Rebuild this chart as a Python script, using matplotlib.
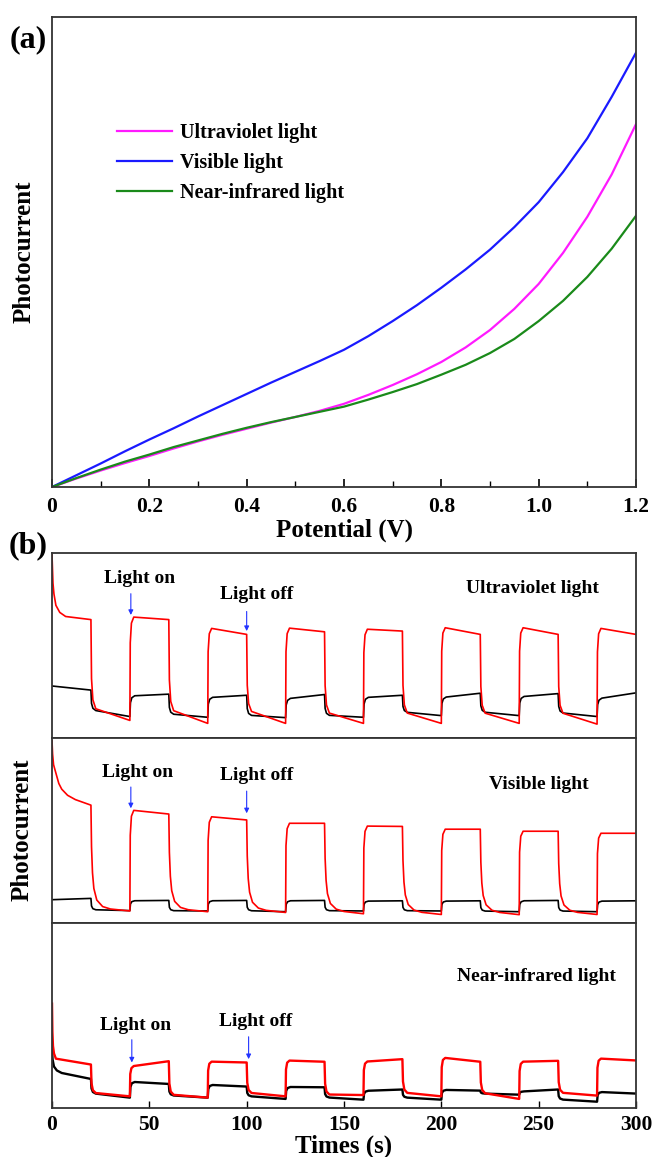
import numpy as np
import matplotlib.pyplot as plt

plt.rcParams['font.family'] = ['Liberation Serif', 'DejaVu Serif']
plt.rcParams['font.weight'] = 'bold'

# ---- (a) photocurrent vs potential (arbitrary units) ----
potential = [0.0, 0.05, 0.1, 0.15, 0.2, 0.25, 0.3, 0.35, 0.4, 0.45, 0.5, 0.55, 0.6,
             0.65, 0.7, 0.75, 0.8, 0.85, 0.9, 0.95, 1.0, 1.05, 1.1, 1.15, 1.2]
uv_iv = [0, 0.018, 0.035, 0.051, 0.066, 0.082, 0.097, 0.111, 0.124, 0.137, 0.149, 0.162, 0.177,
         0.196, 0.217, 0.24, 0.266, 0.297, 0.334, 0.379, 0.432, 0.498, 0.575, 0.665, 0.772]
vis_iv = [0, 0.025, 0.05, 0.076, 0.101, 0.125, 0.15, 0.174, 0.198, 0.222, 0.245, 0.268, 0.292,
          0.321, 0.353, 0.387, 0.424, 0.463, 0.505, 0.553, 0.606, 0.67, 0.742, 0.83, 0.924]
nir_iv = [0, 0.019, 0.037, 0.054, 0.069, 0.085, 0.099, 0.113, 0.126, 0.138, 0.149, 0.16, 0.171,
          0.186, 0.202, 0.219, 0.239, 0.26, 0.285, 0.315, 0.353, 0.396, 0.447, 0.507, 0.577]

# ---- (b) on/off cycles: light switched every 20 s, starting with light on ----
switch_t = [0, 20, 40, 60, 80, 100, 120, 140, 160, 180, 200, 220, 240, 260, 280, 300]

# level just after each switch / just before the next switch
uv_red_start = [0.65, 0.15, 0.655, 0.14, 0.596, 0.138, 0.596, 0.127, 0.589, 0.127, 0.60, 0.127, 0.60, 0.127, 0.596]
uv_red_end = [0.64, 0.095, 0.64, 0.079, 0.56, 0.079, 0.574, 0.079, 0.578, 0.079, 0.56, 0.079, 0.56, 0.075, 0.56]
uv_blk_start = [0.281, 0.149, 0.231, 0.127, 0.222, 0.12, 0.215, 0.12, 0.222, 0.138, 0.222, 0.138, 0.226, 0.134, 0.215]
uv_blk_end = [0.259, 0.116, 0.237, 0.112, 0.231, 0.11, 0.235, 0.112, 0.231, 0.121, 0.242, 0.121, 0.24, 0.116, 0.244]

vis_red_start = [0.70, 0.075, 0.611, 0.072, 0.576, 0.07, 0.539, 0.065, 0.524, 0.06, 0.507, 0.06, 0.496, 0.06, 0.485]
vis_red_end = [0.637, 0.065, 0.589, 0.061, 0.557, 0.057, 0.539, 0.05, 0.522, 0.046, 0.507, 0.045, 0.496, 0.046, 0.485]
vis_blk_start = [0.126, 0.07, 0.122, 0.065, 0.122, 0.065, 0.122, 0.065, 0.12, 0.065, 0.12, 0.063, 0.122, 0.063, 0.12]
vis_blk_end = [0.133, 0.067, 0.122, 0.065, 0.122, 0.061, 0.122, 0.065, 0.12, 0.065, 0.12, 0.061, 0.122, 0.061, 0.12]

nir_red_start = [0.26, 0.078, 0.224, 0.067, 0.251, 0.078, 0.257, 0.067, 0.25, 0.078, 0.273, 0.078, 0.25, 0.078, 0.268]
nir_red_end = [0.235, 0.063, 0.253, 0.056, 0.246, 0.063, 0.25, 0.07, 0.264, 0.063, 0.25, 0.049, 0.255, 0.067, 0.257]
nir_blk_start = [0.20, 0.078, 0.145, 0.067, 0.128, 0.063, 0.116, 0.056, 0.094, 0.056, 0.10, 0.078, 0.089, 0.045, 0.089]
nir_blk_end = [0.157, 0.056, 0.13, 0.056, 0.116, 0.049, 0.112, 0.045, 0.10, 0.045, 0.094, 0.072, 0.10, 0.034, 0.078]

# value at t = 0 (start-up spike)
uv_red_t0, uv_blk_t0 = 0.99, 0.281
vis_red_t0, vis_blk_t0 = 0.985, 0.126
nir_red_t0, nir_blk_t0 = 0.564, 0.313

# settling after a switch: (seconds after switch, fraction of the step still left)
fast = [(0, 1.0), (0.3, 0.35), (1.0, 0.12), (2.5, 0.03)]
slow = [(0, 1.0), (0.3, 0.6), (0.8, 0.35), (1.5, 0.2), (3, 0.09), (6, 0.03), (10, 0.01)]
rise = [(0, 1.0), (0.2, 0.25), (0.8, 0.06), (2, 0.0)]
spike_uv = [(0, 1.0), (0.5, 0.55), (1, 0.38), (2, 0.2), (4, 0.09), (7, 0.03)]
spike_vis = [(0, 1.0), (0.3, 0.75), (0.8, 0.55), (2, 0.4), (3.5, 0.22), (5, 0.13), (8, 0.05), (12, 0.015)]
spike_nir = [(0, 1.0), (0.2, 0.5), (0.5, 0.25), (1, 0.12), (2, 0.03)]
spike_nblk = [(0, 1.0), (0.3, 0.55), (1, 0.23), (2.5, 0.07), (5, 0.0)]


def trace(starts, ends, first, shape_first, shape_on, shape_off):
    t_pts, y_pts = [], []
    prev = first
    for k in range(len(starts)):
        t0, t1 = switch_t[k], switch_t[k + 1]
        shape = shape_first if k == 0 else (shape_on if k % 2 == 0 else shape_off)
        for dt, frac in shape:
            base = starts[k] + (ends[k] - starts[k]) * dt / (t1 - t0)
            t_pts.append(t0 + dt)
            y_pts.append(base + frac * (prev - base))
        t_pts.append(t1)
        y_pts.append(ends[k])
        prev = ends[k]
    return t_pts, y_pts


fig = plt.figure(figsize=(6.54, 11.57), dpi=100)
W, H = 654, 1157


def box(l, t, r, b):
    return [l / W, 1 - b / H, (r - l) / W, (b - t) / H]


# ---------------- panel (a) ----------------
ax = fig.add_axes(box(52, 17, 636, 487))
ax.plot(potential, uv_iv, color='#ff1aff', lw=1.6, label='Ultraviolet light')
ax.plot(potential, vis_iv, color='#1a1aff', lw=1.6, label='Visible light')
ax.plot(potential, nir_iv, color='#1a8a1a', lw=1.6, label='Near-infrared light')
ax.set_xlim(0, 1.2)
ax.set_ylim(0, 1.0)
ax.set_xticks([0, 0.2, 0.4, 0.6, 0.8, 1.0, 1.2])
ax.set_xticklabels(['0', '0.2', '0.4', '0.6', '0.8', '1.0', '1.2'])
ax.set_xticks(np.arange(0.1, 1.2, 0.2), minor=True)
ax.set_yticks([])
ax.tick_params(axis='x', which='major', direction='in', length=6, width=1.2,
               labelsize=15.5, pad=7, top=False)
ax.tick_params(axis='x', which='minor', direction='in', length=4, width=1.0, top=False)
ax.set_xlabel('Potential (V)', fontsize=18, fontweight='bold', labelpad=1)
ax.set_ylabel('Photocurrent', fontsize=18, fontweight='bold', labelpad=12)
for s in ax.spines.values():
    s.set_linewidth(1.3)
    s.set_color('#333333')
ax.legend(loc='upper left', bbox_to_anchor=(0.112, 0.775), frameon=False,
          fontsize=14.5, handlelength=2.7, handletextpad=0.4, labelspacing=0.5,
          borderpad=0, borderaxespad=0)
fig.text(28 / W, 1 - 40 / H, '(a)', fontsize=23, fontweight='bold', ha='center', va='center')

# ---------------- panel (b) ----------------
panels = [
    ((uv_red_start, uv_red_end, uv_red_t0, spike_uv, rise, fast),
     (uv_blk_start, uv_blk_end, uv_blk_t0, fast, fast, fast),
     'Ultraviolet light', (247, 0.81), (45, 0.864), (105, 0.776),
     (40.5, 0.78, 0.665), (100, 0.684, 0.578)),
    ((vis_red_start, vis_red_end, vis_red_t0, spike_vis, rise, slow),
     (vis_blk_start, vis_blk_end, vis_blk_t0, fast, fast, fast),
     'Visible light', (250, 0.75), (44, 0.815), (105, 0.796),
     (40.5, 0.735, 0.62), (100, 0.713, 0.593)),
    ((nir_red_start, nir_red_end, nir_red_t0, spike_nir, rise, fast),
     (nir_blk_start, nir_blk_end, nir_blk_t0, spike_nblk, fast, fast),
     'Near-infrared light', (249, 0.709), (43, 0.447), (104.5, 0.465),
     (41, 0.369, 0.246), (101, 0.385, 0.264)),
]
tops = [553, 738, 923]
for i, (red, blk, name, name_xy, on_xy, off_xy, on_arr, off_arr) in enumerate(panels):
    axb = fig.add_axes(box(52, tops[i], 636, tops[i] + 185))
    tb, yb = trace(*blk)
    tr, yr = trace(*red)
    lw = 1.7 if i == 2 else 1.2
    axb.plot(tb, yb, color='black', lw=lw)
    axb.plot(tr, yr, color='#ff0000', lw=lw)
    axb.set_xlim(0, 300)
    axb.set_ylim(0, 1)
    axb.set_yticks([])
    axb.text(name_xy[0], name_xy[1], name, fontsize=14, ha='center', va='center')
    axb.text(on_xy[0], on_xy[1], 'Light on', fontsize=14, ha='center', va='center')
    axb.text(off_xy[0], off_xy[1], 'Light off', fontsize=14, ha='center', va='center')
    for x, y0, y1 in (on_arr, off_arr):
        axb.annotate('', xy=(x, y1), xytext=(x, y0),
                     arrowprops=dict(arrowstyle='-|>', color='#2233ff', lw=0.8,
                                     mutation_scale=7, shrinkA=0, shrinkB=0))
    for s in axb.spines.values():
        s.set_linewidth(1.3)
        s.set_color('#333333')
    if i < 2:
        axb.set_xticks([])
    else:
        axb.set_xticks([0, 50, 100, 150, 200, 250, 300])
        axb.tick_params(axis='x', direction='in', length=5, width=1.0, labelsize=15.5, pad=5)
        axb.set_xlabel('Times (s)', fontsize=18, fontweight='bold', labelpad=0)

fig.text(22 / W, 1 - 830 / H, 'Photocurrent', fontsize=18, fontweight='bold',
         rotation=90, ha='center', va='center')
fig.text(28 / W, 1 - 546 / H, '(b)', fontsize=23, fontweight='bold', ha='center', va='center')

fig.savefig('out.png', dpi=100)
